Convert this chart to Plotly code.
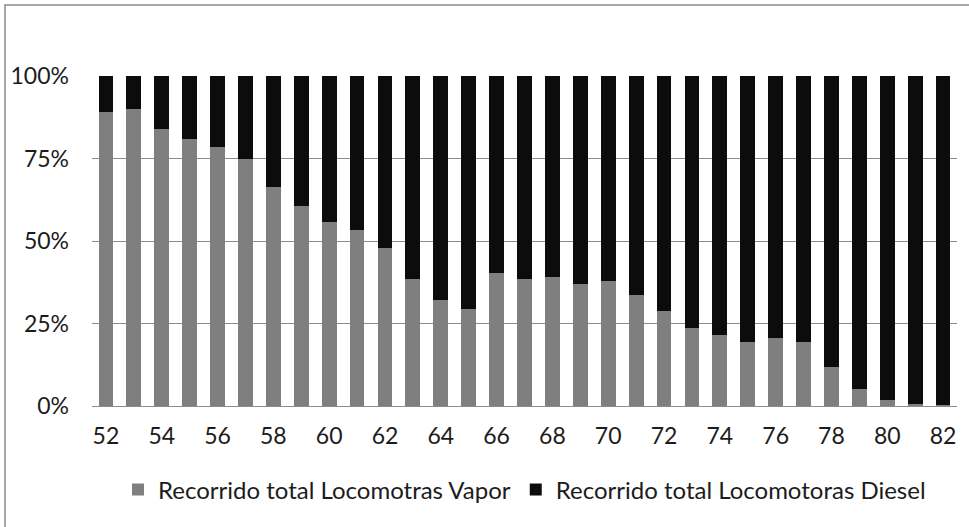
import plotly.graph_objects as go

# Years (two-digit, 1952-1982)
years = list(range(52, 83))

# Share of total distance run by steam locomotives (%)
vapor = [89.0, 89.9, 83.9, 80.9, 78.4, 75.0, 66.5, 60.7, 55.8,
         53.4, 48.0, 38.4, 32.1, 29.4, 40.2, 38.4, 39.2, 36.9, 37.8,
         33.6, 28.8, 23.5, 21.4, 19.5, 20.6, 19.5, 11.9, 5.1, 1.7,
         0.5, 0.2]

# Share of total distance run by diesel locomotives (%)
diesel = [100 - v for v in vapor]

tick_years = list(range(52, 83, 2))
pct_ticks = [0, 25, 50, 75, 100]
pct_labels = ["0%", "25%", "50%", "75%", "100%"]

FONT = "Lato"
TEXT = "#1c1c1c"

fig = go.Figure()
fig.add_trace(go.Bar(
    x=years, y=vapor, name="Recorrido total Locomotras Vapor",
    marker=dict(color="#7f7f7f", line=dict(width=0)), width=0.53,
))
fig.add_trace(go.Bar(
    x=years, y=diesel, name="Recorrido total Locomotoras Diesel",
    marker=dict(color="#0c0c0c", line=dict(width=0)), width=0.53,
))

W, H = 969, 527
ML, MR, MT, MB = 92, 12, 76, 121
PW, PH = W - ML - MR, H - MT - MB

def px_x(p):
    return (p - ML) / PW

def px_y(p):
    return (H - MB - p) / PH

fig.update_layout(
    width=W, height=H,
    margin=dict(l=ML, r=MR, t=MT, b=MB),
    barmode="stack",
    paper_bgcolor="white", plot_bgcolor="white",
    font=dict(family=FONT, size=23, color=TEXT),
    showlegend=True,
    legend=dict(
        orientation="h", x=0.5, xanchor="center",
        y=px_y(490), yanchor="middle",
        traceorder="normal",
        font=dict(family=FONT, size=24, color=TEXT),
        itemwidth=30, tracegroupgap=0,
        bgcolor="rgba(0,0,0,0)",
    ),
    xaxis=dict(
        range=[51.5, 82.5], tickmode="array", tickvals=tick_years,
        ticktext=[str(y) for y in tick_years],
        showgrid=False, zeroline=False, showline=False, ticks="",
        ticklabelstandoff=14,
        tickfont=dict(family=FONT, size=23, color=TEXT),
    ),
    yaxis=dict(
        range=[0, 100], tickmode="array", tickvals=pct_ticks,
        ticktext=pct_labels,
        showgrid=True, gridcolor="#8c8c8c", gridwidth=1,
        zeroline=True, zerolinecolor="#8c8c8c", zerolinewidth=1,
        showline=False, ticks="", ticklabelstandoff=22,
        tickfont=dict(family=FONT, size=23, color=TEXT),
    ),
    shapes=[
        # outer chart frame (runs off the right and bottom edges)
        dict(type="rect", xref="paper", yref="paper",
             x0=px_x(5), x1=px_x(990), y0=px_y(560), y1=px_y(5),
             line=dict(color="#8a8a8a", width=1.5), layer="below"),
    ],
)

fig.write_html("out.html")
